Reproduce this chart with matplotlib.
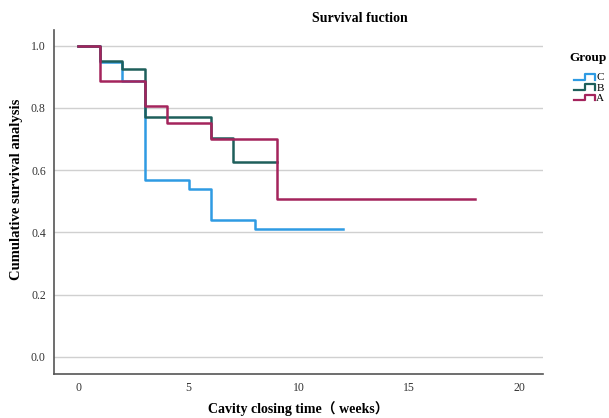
import matplotlib
matplotlib.use('Agg')
import matplotlib.pyplot as plt
from matplotlib.legend_handler import HandlerBase
from matplotlib.lines import Line2D

plt.rcParams['font.family'] = ['Liberation Serif', 'DejaVu Serif']

# Kaplan-Meier steps: event times and survival after each step
groups = ['C', 'B', 'A']
colors = ['#2f9be3', '#1e5f5b', '#a4245c']

c_time = [0, 1, 2, 3, 5, 6, 8, 12]
c_surv = [1.0, 0.947, 0.886, 0.568, 0.538, 0.441, 0.412, 0.412]

b_time = [0, 1, 2, 3, 6, 7, 9]
b_surv = [1.0, 0.952, 0.925, 0.772, 0.704, 0.625, 0.625]

a_time = [0, 1, 3, 4, 6, 9, 18]
a_surv = [1.0, 0.888, 0.805, 0.752, 0.700, 0.508, 0.508]

yticks = [0.0, 0.2, 0.4, 0.6, 0.8, 1.0]
xticks = [0, 5, 10, 15, 20]


class StepHandler(HandlerBase):
    def create_artists(self, legend, orig_handle, xdescent, ydescent,
                       width, height, fontsize, trans):
        lo = -ydescent + height * 0.1
        hi = -ydescent + height * 0.8
        x0 = -xdescent
        xs = [x0, x0 + width * 0.5, x0 + width * 0.5, x0 + width, x0 + width]
        ys = [lo, lo, hi, hi, lo]
        ln = Line2D(xs, ys, color=orig_handle.get_color(), lw=1.6, transform=trans)
        return [ln]


fig = plt.figure(figsize=(6.09, 4.18), dpi=100)
ax = fig.add_axes([0.089, 0.105, 0.803, 0.823])

for yv in yticks:
    ax.axhline(yv, color='#d0d0d0', lw=1.0, zorder=0)

handles = []
for g, col, t, s in zip(groups, colors, [c_time, b_time, a_time], [c_surv, b_surv, a_surv]):
    h, = ax.step(t, s, where='post', color=col, lw=1.8, label=g)
    handles.append(h)

ax.set_xlim(-1.1, 21.1)
ax.set_ylim(-0.055, 1.05)
ax.set_xticks(xticks)
ax.set_yticks(yticks)
ax.set_yticklabels([f'{v:.1f}' for v in yticks])
ax.tick_params(length=0, labelsize=8.5, colors='#333333')
ax.tick_params(axis='x', pad=6)
ax.tick_params(axis='y', pad=6)
for side in ['top', 'right']:
    ax.spines[side].set_visible(False)
for side in ['left', 'bottom']:
    ax.spines[side].set_color('#555555')
    ax.spines[side].set_linewidth(1.2)

fig.text(0.591, 0.955, 'Survival fuction', fontsize=10, fontweight='bold',
         ha='center', va='center')
fig.text(0.49, 0.013, 'Cavity closing time\uff08 weeks\uff09', fontsize=10, fontweight='bold',
         ha='center', va='baseline', family=['Liberation Serif', 'Noto Sans CJK SC'])
fig.text(0.027, 0.548, 'Cumulative survival analysis', fontsize=10.5, fontweight='bold',
         ha='center', va='center', rotation=90)

fig.text(0.966, 0.861, 'Group', fontsize=9.5, fontweight='bold', ha='center', va='center')
leg = fig.legend(handles=handles, labels=groups,
                 handler_map={Line2D: StepHandler()},
                 loc='upper right', bbox_to_anchor=(1.005, 0.845),
                 frameon=False, fontsize=8, handlelength=1.9, handletextpad=0.1,
                 labelspacing=0.05, borderpad=0.2)

fig.savefig('out.png', dpi=100)
